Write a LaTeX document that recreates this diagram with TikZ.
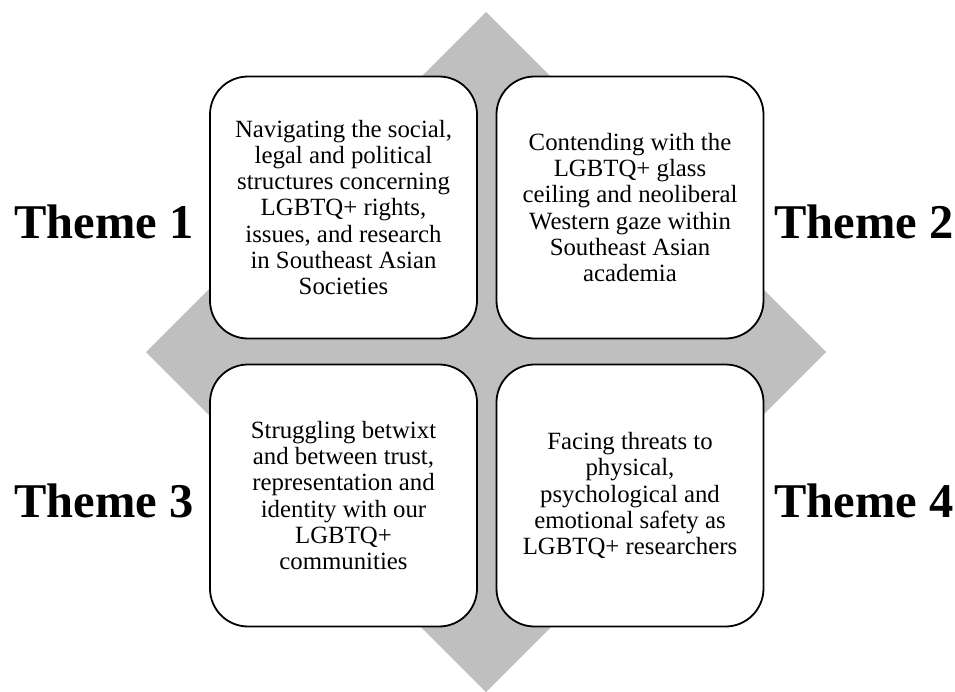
\documentclass[tikz,border=0pt]{standalone}
\usepackage{fontspec}
\setmainfont{Liberation Serif}
\definecolor{diamondgray}{RGB}{191,191,191}
\tikzset{
  themebox/.style={draw=black, line width=1.8pt, fill=white, rounded corners=38pt,
    minimum width=267pt, minimum height=262pt, inner sep=0pt, align=center,
    font=\fontsize{24.8}{26.2}\selectfont},
  themelabel/.style={inner sep=0pt, font=\fontsize{48.5}{50}\selectfont\bfseries}
}
\begin{document}
\begin{tikzpicture}[x=1pt,y=-1pt]
\useasboundingbox (0,0) rectangle (955,691);
\fill[diamondgray] (486,12) -- (826,352) -- (486,692) -- (146,352) -- cycle;
\node[themebox] (b1) at (343.5,207.5) {Navigating the social,\\legal and political\\structures concerning\\LGBTQ+ rights,\\issues, and research\\in Southeast Asian\\Societies};
\node[themebox] (b2) at (630,207.5) {Contending with the\\LGBTQ+ glass\\ceiling and neoliberal\\Western gaze within\\Southeast Asian\\academia};
\node[themebox] (b3) at (343.5,495.5) {Struggling betwixt\\and between trust,\\representation and\\identity with our\\LGBTQ+\\communities};
\node[themebox] (b4) at (630,495.5) {Facing threats to\\physical,\\psychological and\\emotional safety as\\LGBTQ+ researchers};
\node[themelabel, anchor=base east] (t1) at (194,238) {Theme 1};
\node[themelabel, anchor=base west] (t2) at (774,238) {Theme 2};
\node[themelabel, anchor=base east] (t3) at (194,517) {Theme 3};
\node[themelabel, anchor=base west] (t4) at (774,517) {Theme 4};
\end{tikzpicture}
\end{document}
